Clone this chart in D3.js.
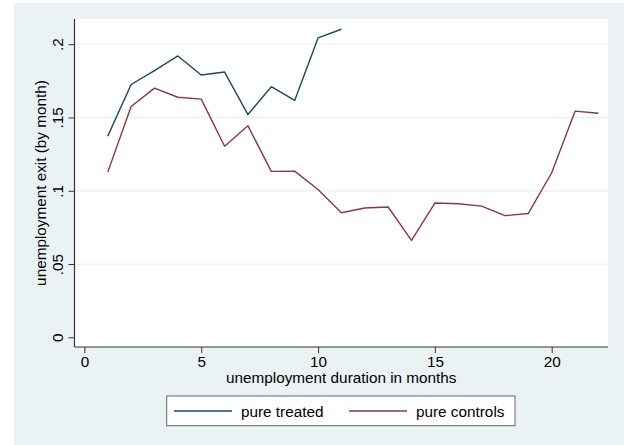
<!DOCTYPE html>
<html>
<head>
<meta charset="utf-8">
<script src="https://cdn.jsdelivr.net/npm/d3@7"></script>
<style>
  body { margin: 0; background: #fff; }
  text { font-family: "Liberation Sans", Arial, sans-serif; fill: #000; }
</style>
</head>
<body>
<div id="chart"></div>
<script>
// data
const months = [1, 2, 3, 4, 5, 6, 7, 8, 9, 10, 11, 12, 13, 14, 15, 16, 17, 18, 19, 20, 21, 22];
const treated = [0.1373, 0.1725, 0.182, 0.192, 0.179, 0.181, 0.152, 0.171, 0.1616, 0.2043, 0.2102];
const controls = [0.1127, 0.1575, 0.170, 0.1638, 0.1625, 0.1304, 0.1443, 0.1132, 0.1134, 0.1009, 0.085,
                  0.0882, 0.0889, 0.0661, 0.0916, 0.0911, 0.0895, 0.083, 0.0845, 0.1123, 0.1543, 0.1529];
const xTicks = [0, 5, 10, 15, 20];
const yTicks = [0, 0.05, 0.1, 0.15, 0.2];
const yTickLabels = ["0", ".05", ".1", ".15", ".2"];
const seriesNames = ["pure treated", "pure controls"];
const seriesColors = ["#1a476f", "#90353b"];

const W = 629, H = 445;
// plot region
const plot = { left: 74.5, right: 608, top: 19, bottom: 347 };

const svg = d3.select("#chart").append("svg")
    .attr("width", W)
    .attr("height", H);

// graph region background
svg.append("rect")
    .attr("x", 14).attr("y", 3)
    .attr("width", 610).attr("height", 442)
    .attr("fill", "#eaf2f3");

svg.append("rect")
    .attr("x", plot.left).attr("y", plot.top)
    .attr("width", plot.right - plot.left)
    .attr("height", plot.bottom - plot.top)
    .attr("fill", "#fff");

const x = d3.scaleLinear().domain([0, 20]).range([84.4, 551.7]);
const y = d3.scaleLinear().domain([0, 0.2]).range([337.3, 44.2]);

// gridlines
svg.append("g")
    .selectAll("line")
    .data(yTicks.filter(d => d > 0))
    .enter()
    .append("line")
    .attr("x1", plot.left).attr("x2", plot.right)
    .attr("y1", d => y(d)).attr("y2", d => y(d))
    .attr("stroke", "#eaf2f3")
    .attr("stroke-width", 1.3);

// lines
const line = d3.line()
    .x((d, i) => x(months[i]))
    .y(d => y(d));

[treated, controls].forEach(function(vals, i) {
    svg.append("path")
        .datum(vals)
        .attr("d", line)
        .attr("fill", "none")
        .attr("stroke", seriesColors[i])
        .attr("stroke-width", 1.4)
        .attr("stroke-linejoin", "round");
});

// axes
const yAxis = svg.append("g")
    .attr("transform", "translate(" + plot.left + ",0)")
    .call(d3.axisLeft(y).tickValues(yTicks).tickSize(6)
        .tickFormat((d, i) => yTickLabels[i]));
yAxis.select(".domain").remove();
yAxis.selectAll("line").attr("stroke", "#333");
yAxis.selectAll("text")
    .attr("transform", "rotate(-90)")
    .attr("x", 0)
    .attr("y", -11.5)
    .attr("dy", 0)
    .attr("text-anchor", "middle")
    .style("font-size", "15.3px");

const xAxis = svg.append("g")
    .attr("transform", "translate(0," + plot.bottom + ")")
    .call(d3.axisBottom(x).tickValues(xTicks).tickSize(6).tickPadding(3));
xAxis.select(".domain").remove();
xAxis.selectAll("line").attr("stroke", "#333");
xAxis.selectAll("text").style("font-size", "15.3px");

// axis lines
svg.append("line")
    .attr("x1", plot.left).attr("x2", plot.left)
    .attr("y1", plot.top).attr("y2", plot.bottom)
    .attr("stroke", "#333").attr("stroke-width", 1.2);
svg.append("line")
    .attr("x1", plot.left).attr("x2", plot.right)
    .attr("y1", plot.bottom).attr("y2", plot.bottom)
    .attr("stroke", "#333").attr("stroke-width", 1.2);

// axis titles
svg.append("text")
    .attr("x", (plot.left + plot.right) / 2)
    .attr("y", 383.3)
    .attr("text-anchor", "middle")
    .style("font-size", "15.3px")
    .text("unemployment duration in months");

svg.append("text")
    .attr("transform", "rotate(-90)")
    .attr("x", -(plot.top + plot.bottom) / 2)
    .attr("y", 46)
    .attr("text-anchor", "middle")
    .style("font-size", "15.3px")
    .text("unemployment exit (by month)");

// legend
const legend = svg.append("g");
legend.append("rect")
    .attr("x", 166.7).attr("y", 396)
    .attr("width", 348.3).attr("height", 29.7)
    .attr("fill", "#fff")
    .attr("stroke", "#666")
    .attr("stroke-width", 1);

const legendX = [174, 349];
seriesNames.forEach(function(name, i) {
    legend.append("line")
        .attr("x1", legendX[i]).attr("x2", legendX[i] + 58)
        .attr("y1", 411).attr("y2", 411)
        .attr("stroke", seriesColors[i])
        .attr("stroke-width", 1.4);
    legend.append("text")
        .attr("x", legendX[i] + 67)
        .attr("y", 416.5)
        .style("font-size", "15.3px")
        .text(name);
});
</script>
</body>
</html>
